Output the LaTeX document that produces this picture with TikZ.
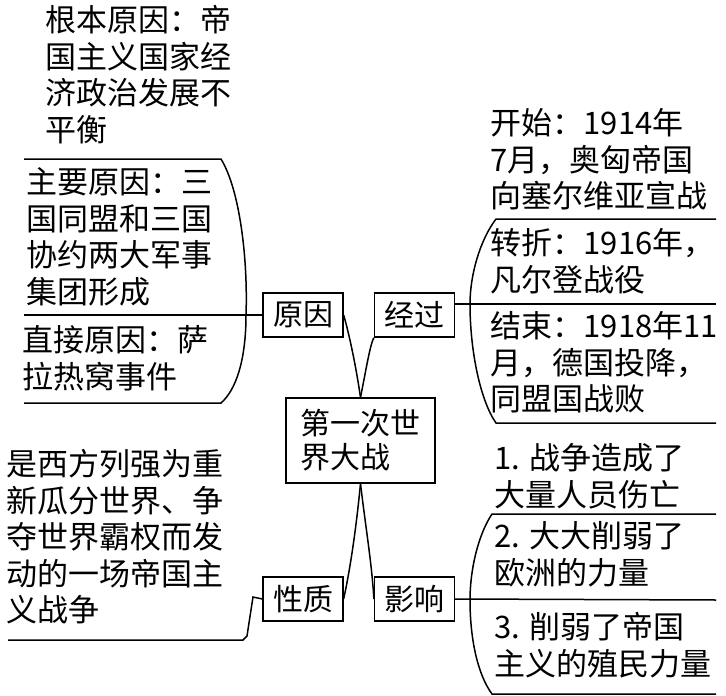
\documentclass[tikz,border=0pt]{standalone}
\usepackage{fontspec}
\setmainfont{Noto Sans CJK SC}
\begin{document}
\begin{tikzpicture}[x=1pt,y=-1pt,line width=1.5pt,
  box/.style={draw,line width=1.3pt,minimum width=80pt,minimum height=44pt,inner sep=0pt,font=\fontsize{30}{34}\selectfont},
  txt/.style={anchor=north west,align=left,inner sep=0pt,font=\fontsize{31}{36.5}\selectfont}]
\path[use as bounding box] (0,0) rectangle (726,696);

% centre and branch boxes
\node[box,minimum width=149pt,minimum height=85pt,align=left] (war) at (360.5,440.5) {第一次世\\界大战};
\node[box] (cause) at (303,315) {原因};
\node[box] (course) at (414.5,315) {经过};
\node[box] (nature) at (303,599) {性质};
\node[box] (effect) at (414.5,599) {影响};

% branch links
\draw (war.north) .. controls (355,360) and (348,330) .. (cause.east);
\draw (war.north) .. controls (366,370) and (370,345) .. (course.south west);
\draw (war.south) .. controls (356,530) and (350,570) .. (nature.east);
\draw (war.south) .. controls (366,530) and (372,565) .. (effect.west);

% cause bracket
\coordinate (c1) at (24,159);
\coordinate (c2) at (24,403);
\coordinate (cm) at (24,315);
\draw (c1) -- (221,159) .. controls (240,190) and (248,260) .. (246,315)
      .. controls (246,360) and (236,390) .. (221,403) -- (c2);
\draw (cause.west) -- (cm);

% course bracket
\coordinate (r1) at (716,219);
\coordinate (r2) at (716,423);
\coordinate (rm) at (716,304);
\draw (r1) -- (496,219) .. controls (480,240) and (470,275) .. (470,304)
      .. controls (470,350) and (480,400) .. (496,423) -- (r2);
\draw (course.east |- rm) -- (rm);

% effect bracket
\coordinate (e1) at (716,514);
\coordinate (e2) at (716,694);
\coordinate (em) at (716,600);
\draw (e1) -- (492,514) .. controls (478,535) and (470,570) .. (470,600)
      .. controls (470,640) and (478,675) .. (492,694) -- (e2);
\draw (effect.east) -- (em);

% nature line
\coordinate (n1) at (8,640);
\draw (nature.west) -- (253,597) -- (247,636) -- (243,640) -- (n1);

% texts
\node[txt] (t1) at (45,5) {根本原因：帝\\国主义国家经\\济政治发展不\\平衡};
\node[txt] (t2) at (26,167) {主要原因：三\\国同盟和三国\\协约两大军事\\集团形成};
\node[txt] (t3) at (22,325) {直接原因：萨\\拉热窝事件};
\node[txt] (t4) at (6,449) {是西方列强为重\\新瓜分世界、争\\夺世界霸权而发\\动的一场帝国主\\义战争};
\node[txt] (t5) at (490,108) {开始：1914年\\7月，奥匈帝国\\向塞尔维亚宣战};
\node[txt] (t6) at (490,228) {转折：1916年，\\凡尔登战役};
\node[txt] (t7) at (490,311) {结束：1918年11\\月，德国投降，\\同盟国战败};
\node[txt] (t8) at (494,443) {1. 战争造成了\\大量人员伤亡};
\node[txt] (t9) at (494,521) {2. 大大削弱了\\欧洲的力量};
\node[txt] (t10) at (494,612) {3. 削弱了帝国\\主义的殖民力量};
\end{tikzpicture}
\end{document}
